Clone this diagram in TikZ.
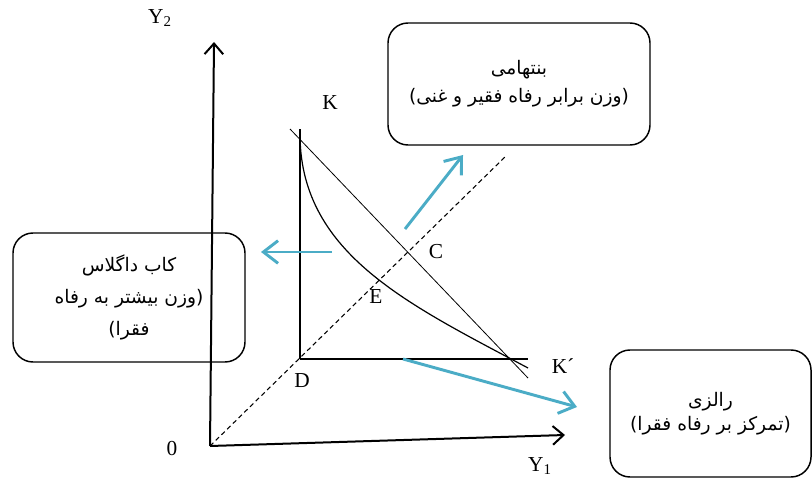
\documentclass[tikz,border=0pt]{standalone}
\usepackage{fontspec}
\setmainfont{Liberation Serif}
\newfontfamily\farsi[Script=Arabic]{DejaVu Sans}
\TeXXeTstate=1
\usetikzlibrary{arrows.meta}
\definecolor{shiftblue}{RGB}{75,172,198}

\begin{document}
\begin{tikzpicture}[x=0.75pt,y=-0.75pt,
  axis/.style={line width=1.5pt,-{Straight Barb[length=8pt,width=14pt]}},
  shiftarrow/.style={draw=shiftblue,line width=2.2pt,-{Straight Barb[length=11pt,width=17pt]}},
  welfarebox/.style={draw,line width=1.1pt,rounded corners=15pt,align=center,inner sep=0pt},
  lbl/.style={font=\fontsize{16}{19}\selectfont,inner sep=0pt}]
  \useasboundingbox (0,0) rectangle (812,484);

  % axes
  \coordinate (O) at (210,446);
  \coordinate (Y2) at (214,42);
  \coordinate (Y1) at (565,435);
  \draw[axis] (O) -- (Y2);
  \draw[axis] (O) -- (Y1);
  \node[lbl] (ylab2) at (160,18) {Y\textsubscript{2}};
  \node[lbl] (ylab1) at (540,466) {Y\textsubscript{1}};
  \node[lbl] (olab) at (172,449) {0};

  % box D
  \coordinate (D) at (300,359);
  \coordinate (Dtop) at (300,129);
  \coordinate (Dright) at (528,359);
  \draw[line width=0.9pt] (D) -- (Dtop);
  \draw[line width=1.4pt] (D) -- (Dright);

  % equality ray and budget line
  \coordinate (ray) at (507,155);
  \draw[line width=0.8pt,dash pattern=on 3.5pt off 2.5pt] (O) -- (ray);
  \coordinate (budtop) at (290,129);
  \coordinate (budend) at (528,378);
  \draw[line width=0.6pt] (budtop) -- (budend);

  % welfare curve
  \coordinate (Kpt) at (300,137);
  \coordinate (curveend) at (528,368);
  \draw[line width=0.9pt] (Kpt) .. controls (302,255) and (410,305) .. (curveend);

  \node[lbl] (klab) at (330,103) {K};
  \node[lbl] (clab) at (436,252) {C};
  \node[lbl] (elab) at (376,297) {E};
  \node[lbl] (dlab) at (302,381) {D};
  \node[lbl] (kplab) at (563,366) {K´};

  % boxes
  \node[welfarebox,minimum width=196.5pt,minimum height=91.5pt,
        font=\farsi\fontsize{14}{21}\selectfont] (bentham) at (519,84)
    {\beginR بنتهامی\endR\\\beginR(وزن برابر رفاه فقیر و غنی)\endR};
  \node[welfarebox,minimum width=174pt,minimum height=96.75pt,
        font=\farsi\fontsize{14}{24}\selectfont] (cobb) at (129,297.5)
    {\beginR کاب داگلاس\endR\\\beginR(وزن بیشتر به رفاه\endR\\\beginR فقرا)\endR};
  \node[welfarebox,minimum width=150.75pt,minimum height=95.25pt,
        font=\farsi\fontsize{14}{18}\selectfont] (rawls) at (710.5,413.5)
    {\beginR رالزی\endR\\\beginR(تمرکز بر رفاه فقرا)\endR};

  % shifts
  \coordinate (up0) at (405,229);
  \coordinate (up1) at (463,155);
  \coordinate (left0) at (332,252);
  \coordinate (left1) at (261,252);
  \coordinate (down0) at (403,359);
  \coordinate (down1) at (577,407);
  \draw[shiftarrow] (up0) -- (up1);
  \draw[shiftarrow] (left0) -- (left1);
  \draw[shiftarrow] (down0) -- (down1);
\end{tikzpicture}
\end{document}
